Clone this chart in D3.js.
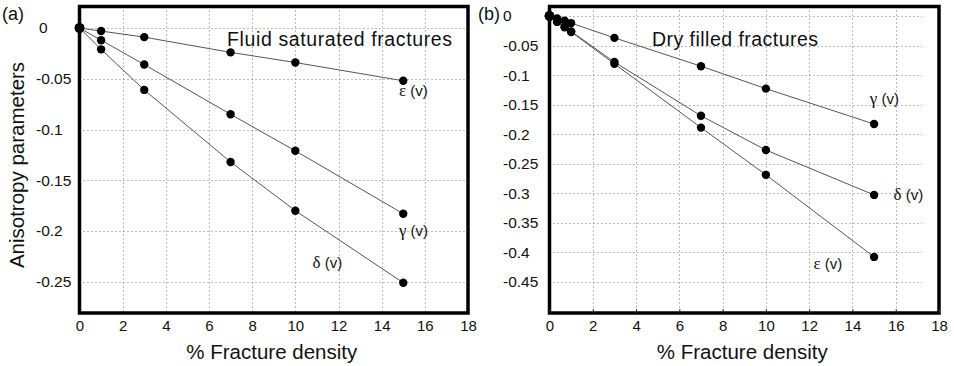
<!DOCTYPE html>
<html>
<head>
<meta charset="utf-8">
<script src="https://cdn.jsdelivr.net/npm/d3@7"></script>
<style>
  body { margin: 0; background: white; }
  text { font-family: "Liberation Sans", Arial, sans-serif; fill: #111; }
</style>
</head>
<body>
<script>
// fracture density (%) on x, anisotropy parameter on y
var xTicks = [0, 2, 4, 6, 8, 10, 12, 14, 16, 18];

// (a) fluid saturated
var fluidDensity = [0, 1, 3, 7, 10, 15];
var fluidEpsilon = [0, -0.003, -0.009, -0.024, -0.034, -0.052];
var fluidGamma   = [0, -0.012, -0.036, -0.085, -0.121, -0.183];
var fluidDelta   = [0, -0.021, -0.061, -0.132, -0.180, -0.251];
var fluidYTicks  = [0, -0.05, -0.1, -0.15, -0.2, -0.25];
var fluidYLabels = ["0", "-0.05", "-0.1", "-0.15", "-0.2", "-0.25"];

// (b) dry filled
var dryDensity = [0, 0.35, 0.7, 1, 3, 7, 10, 15];
var dryGamma   = [0, -0.004, -0.008, -0.012, -0.037, -0.085, -0.123, -0.183];
var dryDelta   = [0, -0.009, -0.018, -0.026, -0.078, -0.169, -0.227, -0.303];
var dryEpsilon = [0, -0.010, -0.019, -0.027, -0.081, -0.189, -0.269, -0.408];
var dryYTicks  = [0, -0.05, -0.1, -0.15, -0.2, -0.25, -0.3, -0.35, -0.4, -0.45];
var dryYLabels = ["0", "-0.05", "-0.1", "-0.15", "-0.2", "-0.25", "-0.3", "-0.35", "-0.4", "-0.45"];

var svg = d3.select("body")
  .append("svg")
    .attr("width", 954)
    .attr("height", 366)
    .style("background-color", "white");

var drawPanel = function(p) {
  var x = d3.scaleLinear().domain([0, 18]).range([p.left, p.right]);
  var y = d3.scaleLinear().domain(p.yDomain).range([p.bottom, p.top]);
  var g = svg.append("g");

  // dotted grid
  g.selectAll(".vgrid")
    .data(xTicks.slice(1, -1))
    .enter().append("line")
      .attr("x1", function(d) { return Math.round(x(d)) + 0.5; })
      .attr("x2", function(d) { return Math.round(x(d)) + 0.5; })
      .attr("y1", p.top)
      .attr("y2", p.bottom)
      .attr("stroke", "#777")
      .attr("stroke-width", 1)
      .attr("stroke-dasharray", "1,3");

  g.selectAll(".hgrid")
    .data(p.yTicks)
    .enter().append("line")
      .attr("x1", p.left)
      .attr("x2", p.gridRight)
      .attr("y1", function(d) { return Math.round(y(d)) + 0.5; })
      .attr("y2", function(d) { return Math.round(y(d)) + 0.5; })
      .attr("stroke", "#777")
      .attr("stroke-width", 1)
      .attr("stroke-dasharray", "1,3");

  // frame
  g.append("rect")
    .attr("x", p.left)
    .attr("y", p.top)
    .attr("width", p.right - p.left)
    .attr("height", p.bottom - p.top)
    .attr("fill", "none")
    .attr("stroke", "#000")
    .attr("stroke-width", 3.5);

  // x axis labels
  var xAxis = g.append("g")
    .attr("transform", "translate(0," + p.bottom + ")")
    .call(d3.axisBottom(x).tickValues(xTicks).tickSizeInner(p.innerTick).tickSizeOuter(0).tickPadding(7));
  xAxis.select(".domain").remove();
  xAxis.selectAll("line").attr("stroke", "#333");
  xAxis.selectAll("text")
    .attr("font-size", 15)
    .attr("font-family", "Liberation Sans, Arial, sans-serif")
    .attr("fill", "#111");

  // y axis labels, left aligned
  var yAxis = g.append("g")
    .attr("transform", "translate(" + p.left + ",0)")
    .call(d3.axisLeft(y).tickValues(p.yTicks).tickSize(0)
      .tickFormat(function(d, i) { return p.yLabels[i]; }));
  yAxis.select(".domain").remove();
  yAxis.selectAll("text")
    .attr("text-anchor", "start")
    .attr("x", function(d) { return p.labelX - p.left + (d === 0 ? p.zeroShift : 0); })
    .attr("font-size", 15.5)
    .attr("font-family", "Liberation Sans, Arial, sans-serif")
    .attr("fill", "#111");

  g.append("text")
    .attr("x", (p.left + p.right) / 2 - 2)
    .attr("y", 359)
    .attr("text-anchor", "middle")
    .attr("font-size", 20.5)
    .text("% Fracture density");

  // series
  var line = d3.line()
    .x(function(d) { return x(d[0]); })
    .y(function(d) { return y(d[1]); });

  p.series.forEach(function(s) {
    var pts = p.density.map(function(d, i) { return [d, s.values[i]]; });
    g.append("path")
      .datum(pts)
      .attr("d", line)
      .attr("fill", "none")
      .attr("stroke", "#555")
      .attr("stroke-width", 1);
    g.selectAll(null)
      .data(pts)
      .enter().append("circle")
        .attr("cx", function(d) { return x(d[0]); })
        .attr("cy", function(d) { return y(d[1]); })
        .attr("r", function(d) { return d[0] === 0 ? 4.8 : 4.2; })
        .attr("fill", "#000");

    var lab = g.append("text")
      .attr("x", x(s.lx))
      .attr("y", y(s.ly))
      .attr("font-size", 15);
    lab.append("tspan")
      .attr("font-family", "Liberation Serif, Times New Roman, serif")
      .attr("font-size", 17)
      .text(s.name);
    lab.append("tspan").text(" (v)");
  });

  g.append("text")
    .attr("x", (p.titleX))
    .attr("y", 46)
    .attr("text-anchor", "middle")
    .attr("font-size", 19.5)
    .attr("textLength", p.titleLen)
    .text(p.title);

  svg.append("text")
    .attr("x", p.tagX)
    .attr("y", 20)
    .attr("font-family", "Liberation Serif, Times New Roman, serif")
    .attr("font-size", 18)
    .text(p.tag);
};

drawPanel({
  left: 79.5, right: 468, top: 6.5, bottom: 313,
  gridRight: 466,
  yDomain: [-0.2808, 0.0212],
  yTicks: fluidYTicks, yLabels: fluidYLabels, labelX: 36, zeroShift: 3,
  innerTick: 0,
  density: fluidDensity,
  series: [
    { name: "\u03b5", values: fluidEpsilon, lx: 14.8, ly: -0.067 },
    { name: "\u03b3", values: fluidGamma, lx: 14.8, ly: -0.205 },
    { name: "\u03b4", values: fluidDelta, lx: 10.8, ly: -0.236 }
  ],
  title: "Fluid saturated fractures", titleX: 339.5, titleLen: 225,
  tag: "(a)", tagX: 2
});

drawPanel({
  left: 549.5, right: 939, top: 6.5, bottom: 313,
  gridRight: 922,
  yDomain: [-0.503, 0.0161],
  yTicks: dryYTicks, yLabels: dryYLabels, labelX: 503, zeroShift: 0,
  innerTick: -4,
  density: dryDensity,
  series: [
    { name: "\u03b3", values: dryGamma, lx: 14.8, ly: -0.149 },
    { name: "\u03b4", values: dryDelta, lx: 15.9, ly: -0.312 },
    { name: "\u03b5", values: dryEpsilon, lx: 12.2, ly: -0.429 }
  ],
  title: "Dry filled fractures", titleX: 735, titleLen: 166,
  tag: "(b)", tagX: 478
});

svg.append("text")
  .attr("transform", "translate(24,165) rotate(-90)")
  .attr("text-anchor", "middle")
  .attr("font-size", 20.5)
  .text("Anisotropy parameters");
</script>
</body>
</html>
